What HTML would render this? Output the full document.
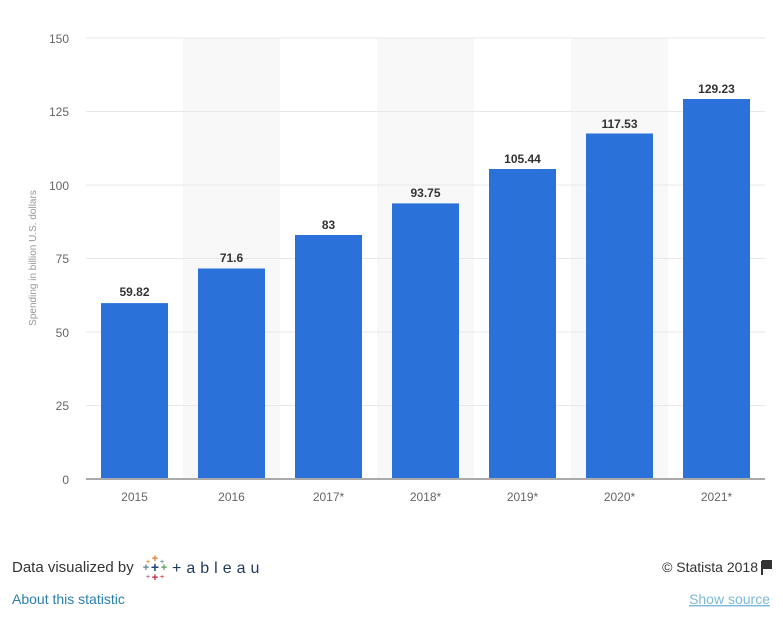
<!DOCTYPE html>
<html><head><meta charset="utf-8"><style>
body{margin:0;background:#fff;width:783px;height:614px;overflow:hidden;font-family:"Liberation Sans",sans-serif}
</style></head><body>
<svg width="783" height="614" xmlns="http://www.w3.org/2000/svg" font-family="Liberation Sans, sans-serif">
<rect x="183" y="38" width="97" height="441" fill="#f8f8f8"/>
<rect x="377" y="38" width="97" height="441" fill="#f8f8f8"/>
<rect x="571" y="38" width="97" height="441" fill="#f8f8f8"/>
<g stroke="#e8e8e8" stroke-width="1">
<line x1="86" x2="765" y1="38" y2="38"/><line x1="86" x2="765" y1="111.5" y2="111.5"/>
<line x1="86" x2="765" y1="185" y2="185"/><line x1="86" x2="765" y1="258.5" y2="258.5"/>
<line x1="86" x2="765" y1="332" y2="332"/><line x1="86" x2="765" y1="405.5" y2="405.5"/>
</g>
<g font-size="12" fill="#666" text-anchor="end">
<text x="69" y="43">150</text><text x="69" y="116">125</text><text x="69" y="190">100</text>
<text x="69" y="263">75</text><text x="69" y="337">50</text><text x="69" y="410">25</text><text x="69" y="484">0</text>
</g>
<text transform="translate(36,258) rotate(-90)" font-size="10" fill="#999" text-anchor="middle">Spending in billion U.S. dollars</text>
<g fill="#2a72d9">
<rect x="101" y="303.1" width="67" height="175.9"/>
<rect x="198" y="268.5" width="67" height="210.5"/>
<rect x="295" y="235" width="67" height="244"/>
<rect x="392" y="203.4" width="67" height="275.6"/>
<rect x="489" y="169" width="67" height="310"/>
<rect x="586" y="133.5" width="67" height="345.5"/>
<rect x="683" y="99" width="67" height="380"/>
</g>
<line x1="86" x2="765" y1="479" y2="479" stroke="#aaa" stroke-width="2"/>
<g font-size="12" font-weight="bold" fill="#333" text-anchor="middle">
<text x="134.5" y="296">59.82</text><text x="231.5" y="262">71.6</text><text x="328.5" y="229">83</text>
<text x="425.5" y="197">93.75</text><text x="522.5" y="163">105.44</text><text x="619.5" y="128">117.53</text><text x="716.5" y="93">129.23</text>
</g>
<g font-size="12" fill="#666" text-anchor="middle">
<text x="134.5" y="501">2015</text><text x="231.5" y="501">2016</text><text x="328.5" y="501">2017*</text>
<text x="425.5" y="501">2018*</text><text x="522.5" y="501">2019*</text><text x="619.5" y="501">2020*</text><text x="716.5" y="501">2021*</text>
</g>
<text x="12" y="572" font-size="15" fill="#333">Data visualized by</text>
<g font-size="11" text-anchor="middle" font-weight="bold">
<text x="155" y="562" fill="#e8762b">+</text><text x="146" y="571" fill="#5b879b">+</text><text x="164" y="571" fill="#59a14f">+</text>
<text x="155" y="581" fill="#c72035">+</text><text x="155" y="572" fill="#1f457e" font-size="14">+</text>
<text x="148" y="564" fill="#eb912b" font-size="7">+</text><text x="162" y="564" fill="#7099a6" font-size="7">+</text>
<text x="148" y="579" fill="#b07aa1" font-size="7">+</text><text x="162" y="579" fill="#e15759" font-size="7">+</text>
</g>
<text x="172" y="573" font-size="16" fill="#1f3a5e" letter-spacing="5">+ableau</text>
<text x="12" y="604" font-size="14" fill="#2a7fb0">About this statistic</text>
<text x="758" y="572" font-size="14" fill="#333" text-anchor="end">© Statista 2018</text>
<path d="M762 561v14M763 561h8v7h-8z" stroke="#333" stroke-width="2" fill="#333"/>
<text x="770" y="604" font-size="14" fill="#7cb8d8" text-anchor="end" text-decoration="underline">Show source</text>
</svg>
</body></html>
